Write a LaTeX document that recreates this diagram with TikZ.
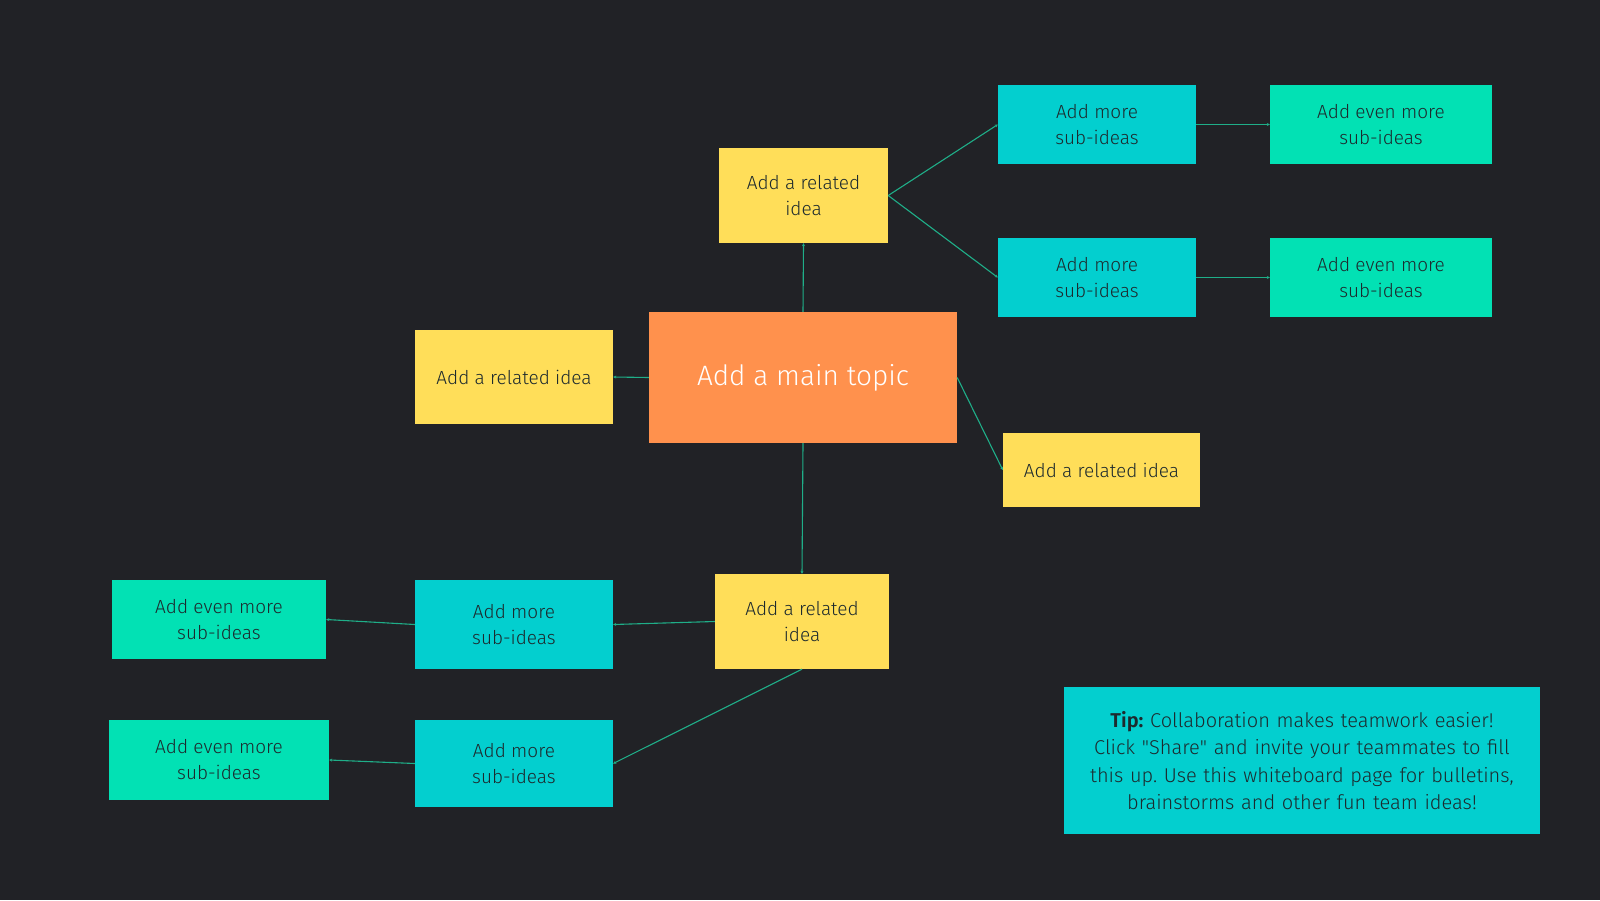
\documentclass[tikz,border=0pt]{standalone}
\usepackage{fontspec}
\setmainfont{Fira Sans}[UprightFont=* Light, BoldFont=* SemiBold]
\usetikzlibrary{arrows.meta}
\frenchspacing
\definecolor{bg}{HTML}{212226}
\definecolor{yel}{HTML}{FFDE59}
\definecolor{org}{HTML}{FF914D}
\definecolor{cya}{HTML}{03CFCF}
\definecolor{grn}{HTML}{02E1B4}
\definecolor{ink}{HTML}{1D2A2E}
\definecolor{lnk}{HTML}{1FAE88}
\tikzset{
  box/.style={rectangle, inner sep=0pt, align=center, text=ink, font=\fontsize{19}{26}\selectfont},
  yelbox/.style={box, fill=yel},
  cyabox/.style={box, fill=cya},
  grnbox/.style={box, fill=grn},
  conn/.style={draw=lnk, line width=1.1pt, -{Stealth[length=3pt,width=3pt]}},
}
\begin{document}
\begin{tikzpicture}[x=1pt,y=-1pt]
\fill[bg] (0,0) rectangle (1600,900);
\useasboundingbox (0,0) rectangle (1600,900);
\node[box, fill=org, text=white, minimum width=308pt, minimum height=131pt, font=\fontsize{28}{32}\selectfont] (main) at (803,377.5) {Add a main topic};
\node[yelbox, minimum width=169pt, minimum height=95pt] (top) at (803.5,195.5) {Add a related\\idea};
\node[yelbox, minimum width=198pt, minimum height=94pt] (left) at (514,377) {Add a related idea};
\node[yelbox, minimum width=197pt, minimum height=74pt] (right) at (1101.5,470) {Add a related idea};
\node[yelbox, minimum width=174pt, minimum height=95pt] (bot) at (802,621.5) {Add a related\\idea};
\node[cyabox, minimum width=198pt, minimum height=79pt] (s1) at (1097,124.5) {Add more\\sub-ideas};
\node[cyabox, minimum width=198pt, minimum height=79pt] (s2) at (1097,277.5) {Add more\\sub-ideas};
\node[grnbox, minimum width=222pt, minimum height=79pt] (e1) at (1381,124.5) {Add even more\\sub-ideas};
\node[grnbox, minimum width=222pt, minimum height=79pt] (e2) at (1381,277.5) {Add even more\\sub-ideas};
\node[cyabox, minimum width=198pt, minimum height=89pt] (b1) at (514,624.5) {Add more\\sub-ideas};
\node[cyabox, minimum width=198pt, minimum height=87pt] (b2) at (514,763.5) {Add more\\sub-ideas};
\node[grnbox, minimum width=214pt, minimum height=79pt] (be1) at (219,619.5) {Add even more\\sub-ideas};
\node[grnbox, minimum width=220pt, minimum height=80pt] (be2) at (219,760) {Add even more\\sub-ideas};
\node[cyabox, minimum width=476pt, minimum height=147pt, text width=466pt, font=\fontsize{20}{27.5}\selectfont] (tip) at (1302,760.5) {\textbf{Tip:} Collaboration makes teamwork easier!\\Click \textquotedbl Share\textquotedbl{} and invite your teammates to fill\\this up. Use this whiteboard page for bulletins,\\brainstorms and other fun team ideas!};
\draw[conn] (main.north) -- (top.south);
\draw[conn] (main.west) -- (left.east);
\draw[conn] (main.east) -- (right.west);
\draw[conn] (main.south) -- (bot.north);
\draw[conn] (top.east) -- (s1.west);
\draw[conn] (top.east) -- (s2.west);
\draw[conn] (s1.east) -- (e1.west);
\draw[conn] (s2.east) -- (e2.west);
\draw[conn] (bot.west) -- (b1.east);
\draw[conn] (b1.west) -- (be1.east);
\draw[conn] (bot.south) -- (b2.east);
\draw[conn] (b2.west) -- (be2.east);
\end{tikzpicture}
\end{document}
